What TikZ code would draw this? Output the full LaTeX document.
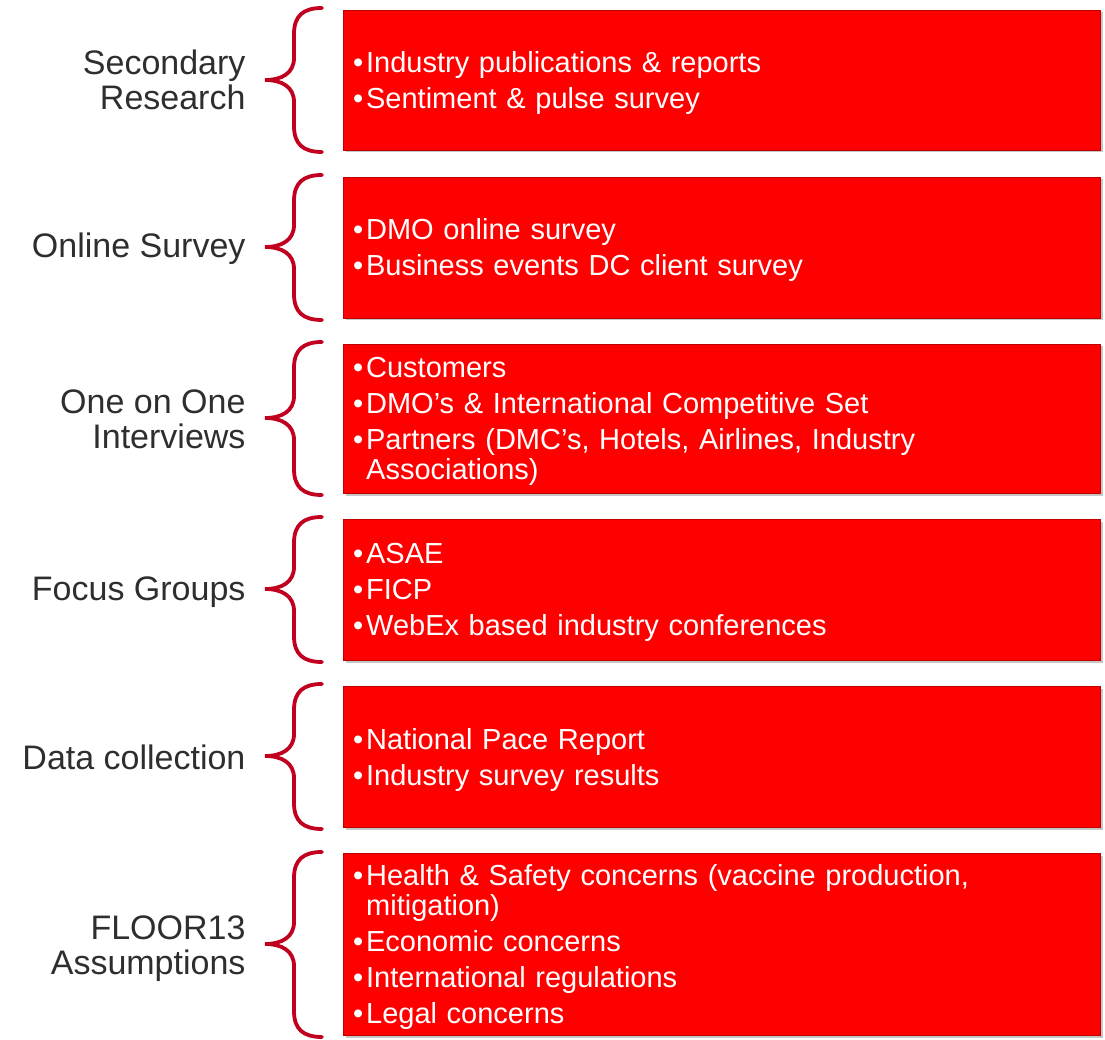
\documentclass[tikz,border=0pt]{standalone}
\usepackage{fontspec}
\setmainfont{Liberation Sans}
\usetikzlibrary{shadows}
\definecolor{boxred}{HTML}{FF0000}
\definecolor{bracered}{HTML}{C0001E}
\definecolor{labgray}{HTML}{2E2E2E}
\newcommand{\rowbrace}[3]{%
  \draw[bracestyle] (322,#1) .. controls (303,#1) and (294,{#1+8}) .. (294,{#1+26})
    -- (294,{#3-22}) .. controls (294,{#3-7}) and (282,#3) .. (265,#3)
    .. controls (282,#3) and (294,{#3+7}) .. (294,{#3+22})
    -- (294,{#2-26}) .. controls (294,{#2-8}) and (303,#2) .. (322,#2);}
\newcommand{\bul}{\textbullet\hspace{3pt}}
\newcommand{\bulsp}{\hphantom{\textbullet\hspace{3pt}}}
\begin{document}
\begin{tikzpicture}[x=1pt,y=-1pt,
  redbox/.style={draw=red!75!black, line width=0.8pt, fill=boxred,
    minimum width=757pt, inner sep=0pt,
    drop shadow={shadow xshift=2.5pt, shadow yshift=-2.5pt, opacity=0.45}},
  boxtext/.style={text=white, text width=741pt, inner sep=0pt, align=left,
    font=\fontsize{29}{30}\selectfont},
  lab/.style={anchor=east, align=right, text=labgray, font=\fontsize{34}{35}\selectfont},
  bracestyle/.style={draw=bracered, line width=3.8pt, line cap=round}]
\useasboundingbox (0,0) rectangle (1105,1040);

% boxes
\node[redbox, minimum height=140pt] (b1) at (721.5,80) {};
\node[redbox, minimum height=141pt] (b2) at (721.5,247.5) {};
\node[redbox, minimum height=149pt] (b3) at (721.5,418.5) {};
\node[redbox, minimum height=141pt] (b4) at (721.5,589.5) {};
\node[redbox, minimum height=141pt] (b5) at (721.5,756.5) {};
\node[redbox, minimum height=182pt] (b6) at (721.5,944) {};

% box texts
\node[boxtext] (t1) at ([xshift=2pt,yshift=-3pt]b1.center)
  {\bul Industry publications \& reports\\[6pt]\bul Sentiment \& pulse survey};
\node[boxtext] (t2) at ([xshift=2pt,yshift=-3pt]b2.center)
  {\bul DMO online survey\\[6pt]\bul Business events DC client survey};
\node[boxtext] (t3) at ([xshift=2pt,yshift=-3pt]b3.center)
  {\bul Customers\\[6pt]\bul DMO’s \& International Competitive Set\\[6pt]\bul Partners (DMC’s, Hotels, Airlines, Industry\\\bulsp Associations)};
\node[boxtext] (t4) at ([xshift=2pt,yshift=-3pt]b4.center)
  {\bul ASAE\\[6pt]\bul FICP\\[6pt]\bul WebEx based industry conferences};
\node[boxtext] (t5) at ([xshift=2pt,yshift=-3pt]b5.center)
  {\bul National Pace Report\\[6pt]\bul Industry survey results};
\node[boxtext] (t6) at ([xshift=2pt,yshift=-3pt]b6.center)
  {\bul Health \& Safety concerns (vaccine production,\\\bulsp mitigation)\\[6pt]\bul Economic concerns\\[6pt]\bul International regulations\\[6pt]\bul Legal concerns};

% braces
\rowbrace{8}{152}{80}
\rowbrace{175}{320}{247}
\rowbrace{342}{495}{418}
\rowbrace{517}{662}{589}
\rowbrace{684}{829}{756}
\rowbrace{852}{1037}{944}

% labels
\node[lab] (l1) at (249,80) {Secondary\\Research};
\node[lab] (l2) at (249,249) {Online Survey};
\node[lab] (l3) at (249,419) {One on One\\Interviews};
\node[lab] (l4) at (249,592) {Focus Groups};
\node[lab] (l5) at (249,757) {Data collection};
\node[lab] (l6) at (249,949) {FLOOR13\\Assumptions};
\end{tikzpicture}
\end{document}
